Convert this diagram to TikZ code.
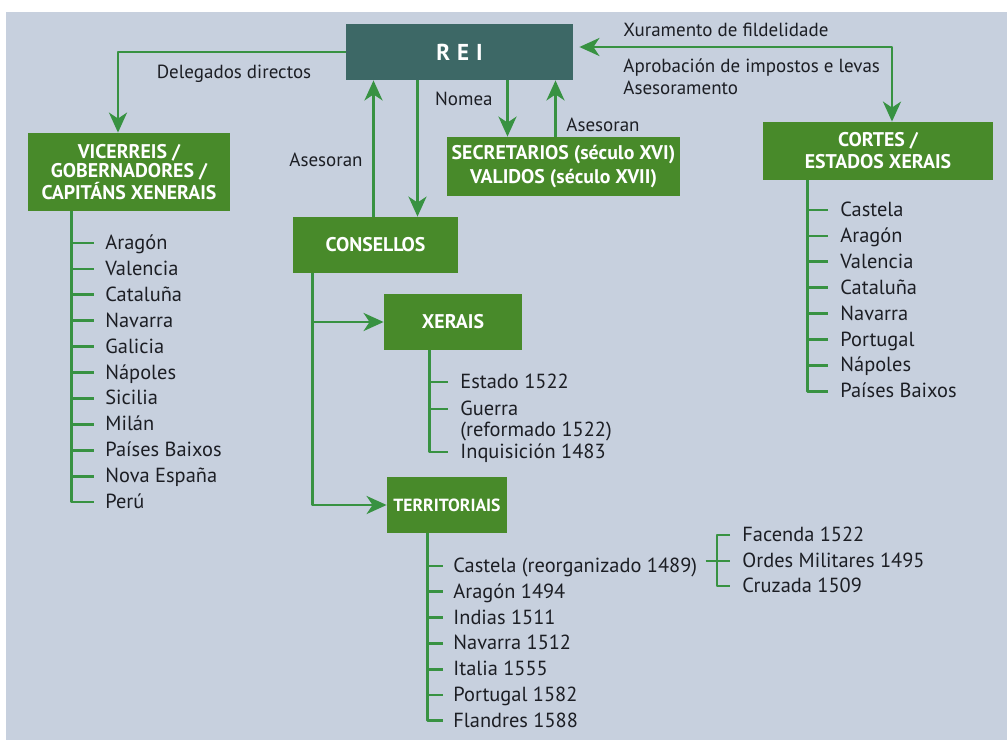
\documentclass[tikz,border=0pt]{standalone}
\usepackage{fontspec}
\setmainfont{PT Sans}
\usetikzlibrary{arrows.meta,positioning}
\definecolor{fondo}{RGB}{199,208,222}
\definecolor{verdecaixa}{RGB}{72,138,42}
\definecolor{verdetrazo}{RGB}{56,146,66}
\definecolor{azulrei}{RGB}{61,104,102}
\definecolor{tinta}{RGB}{28,30,36}
\tikzset{
  caixa/.style={fill=verdecaixa, text=white, align=center, inner sep=0pt,
    font=\bfseries\fontsize{9.9}{9.8}\selectfont},
  rama/.style={draw=verdetrazo, line width=1.4pt},
  frecha/.style={rama, -{Stealth[length=10pt,width=9pt,inset=3pt]}},
  dobre/.style={rama, {Stealth[length=10pt,width=9pt,inset=3pt]}-{Stealth[length=10pt,width=9pt,inset=3pt]}},
  item/.style={anchor=west, inner sep=0pt, text=tinta, text height=1.6ex, text depth=.3ex,
    font=\fontsize{10.2}{11}\selectfont},
  etiqueta/.style={item, anchor=center, font=\fontsize{9.5}{11}\selectfont}
}
\begin{document}
\begin{tikzpicture}[x=0.5pt, y=-0.5pt, line join=round]
  \useasboundingbox (0,0) rectangle (1007,740);
  \fill[white] (0,0) rectangle (1007,740);
  \fill[fondo] (6,12) rectangle (1007,740);
  % caixas
  \node[caixa, fill=azulrei, minimum width=113.5pt, minimum height=28pt,
    font=\bfseries\fontsize{11.5}{12}\selectfont\addfontfeature{LetterSpace=30}] (rei) at (459.5,52) {REI};
  \node[caixa, minimum width=101pt, minimum height=39pt] (vice) at (129,172) {VICERREIS /\\GOBERNADORES /\\CAPITÁNS XENERAIS};
  \node[caixa, minimum width=82.5pt, minimum height=28pt] (consellos) at (375.5,245) {CONSELLOS};
  \node[caixa, minimum width=116.5pt, minimum height=29.5pt, font=\bfseries\fontsize{9.9}{12}\selectfont] (secr) at (563.5,166.5) {SECRETARIOS (século XVI)\\VALIDOS (século XVII)};
  \node[caixa, minimum width=115pt, minimum height=29pt, font=\bfseries\fontsize{9.9}{11}\selectfont] (cortes) at (878,151) {CORTES /\\ESTADOS XERAIS};
  \node[caixa, minimum width=69pt, minimum height=28pt] (xerais) at (453,322) {XERAIS};
  \node[caixa, minimum width=60pt, minimum height=28pt, font=\bfseries\fontsize{8.8}{9.8}\selectfont] (terr) at (447,505) {TERRITORIAIS};

  % frechas do rei
  \draw[frecha] (rei.west) -| ([xshift=-5.5pt]vice.north);
  \node[etiqueta] (deleg) at (234,72) {Delegados directos};
  \coordinate (cUp) at ([xshift=-1pt]consellos.north);
  \coordinate (cDn) at ([xshift=21pt]consellos.north);
  \draw[frecha] (cUp) -- (cUp |- rei.south);
  \draw[frecha] (cDn |- rei.south) -- (cDn);
  \node[etiqueta] (ases1) at (326,160) {Asesoran};
  \coordinate (sDn) at ([xshift=-28pt]secr.north);
  \coordinate (sUp) at ([xshift=-4pt]secr.north);
  \draw[frecha] (sDn |- rei.south) -- (sDn);
  \draw[frecha] (sUp) -- (sUp |- rei.south);
  \node[etiqueta, anchor=east] (nomea) at (493,99) {Nomea};
  \node[etiqueta, anchor=west] (ases2) at (566,125) {Asesoran};
  \coordinate (rE) at ([yshift=2.5pt,xshift=3pt]rei.east);
  \draw[dobre] (rE) -| ([xshift=7pt]cortes.north);
  \node[etiqueta, anchor=west] (xur) at (623,30) {Xuramento de fildelidade};
  \node[etiqueta, anchor=west] (apro) at (623,66) {Aprobación de impostos e levas};
  \node[etiqueta, below=1pt of apro.south west, anchor=north west] (aseso) {Asesoramento};

  % vicerreis
  \coordinate (vr) at ([xshift=22pt]vice.south west);
  \foreach \nome [count=\i] in {Aragón,Valencia,Cataluña,Navarra,Galicia,Nápoles,Sicilia,Milán,Países Baixos,Nova España,Perú}
    \node[item] (v\i) at (105,217.1+25.9*\i) {\nome};
  \draw[rama] (vr) |- ([xshift=-5.5pt]v11.west);
  \foreach \i in {1,...,10} \draw[rama] (vr |- v\i.west) -- ([xshift=-5.5pt]v\i.west);

  % consellos
  \coordinate (cS) at ([xshift=10pt]consellos.south west);
  \draw[frecha] (cS) |- (terr.west);
  \draw[frecha] (cS |- xerais.west) -- (xerais.west);
  \coordinate (xr) at ([xshift=23pt]xerais.south west);
  \node[item] (x1) at (460,382) {Estado 1522};
  \node[item] (x2) at (460,409) {Guerra};
  \node[item, below=0.5pt of x2.south west, anchor=north west] (x2b) {(reformado 1522)};
  \node[item] (x3) at (460,452) {Inquisición 1483};
  \draw[rama] (xr) |- ([xshift=-6pt]x3.west);
  \foreach \i in {1,2} \draw[rama] (xr |- x\i.west) -- ([xshift=-6pt]x\i.west);

  \coordinate (tr) at ([xshift=20.5pt]terr.south west);
  \foreach \nome [count=\i] in {Castela (reorganizado 1489),Aragón 1494,Indias 1511,Navarra 1512,Italia 1555,Portugal 1582,Flandres 1588}
    \node[item] (t\i) at (453,540.2+25.8*\i) {\nome};
  \draw[rama] (tr) |- ([xshift=-5pt]t7.west);
  \foreach \i in {1,...,6} \draw[rama] (tr |- t\i.west) -- ([xshift=-5pt]t\i.west);

  \node[item] (c1) at (742,535) {Facenda 1522};
  \node[item] (c2) at (742,561) {Ordes Militares 1495};
  \node[item] (c3) at (742,586) {Cruzada 1509};
  \coordinate (ck) at (717,561);
  \coordinate (tE) at ([xshift=4pt]t1.east);
  \draw[rama] ([xshift=-6pt]c1.west) -| (ck) |- ([xshift=-6pt]c3.west);
  \draw[rama] (tE |- c2.west) -- ([xshift=-6pt]c2.west);

  % cortes
  \coordinate (kr) at ([xshift=22.5pt]cortes.south west);
  \foreach \nome [count=\i] in {Castela,Aragón,Valencia,Cataluña,Navarra,Portugal,Nápoles,Países Baixos}
    \node[item] (k\i) at (840,184.1+25.9*\i) {\nome};
  \draw[rama] (kr) |- ([xshift=-6pt]k8.west);
  \foreach \i in {1,...,7} \draw[rama] (kr |- k\i.west) -- ([xshift=-6pt]k\i.west);
\end{tikzpicture}
\end{document}
